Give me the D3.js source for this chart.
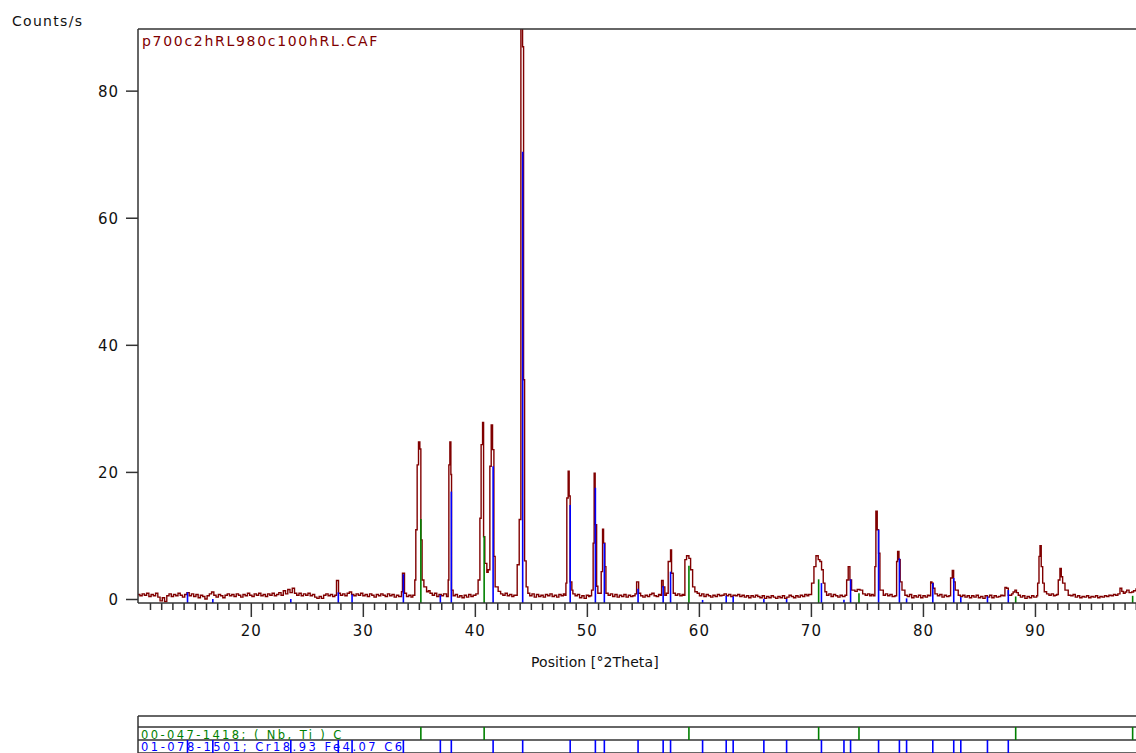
<!DOCTYPE html>
<html><head><meta charset="utf-8">
<script src="https://cdn.jsdelivr.net/npm/d3@7"></script>
<style>body{margin:0;background:#fff}svg{display:block}text{font-family:"DejaVu Sans",sans-serif}</style>
</head><body><svg id="c" width="1136" height="753"></svg>
<script>
const scanName = "p700c2hRL980c100hRL.CAF";
const yLabel = "Counts/s";
const xLabel = "Position [°2Theta]";
const yTickValues = [0, 20, 40, 60, 80];
const xTickValues = [20, 30, 40, 50, 60, 70, 80, 90];
const xMinorTickValues = [11,12,13,14,15,16,17,18,19,21,22,23,24,25,26,27,28,29,31,32,33,34,35,36,37,38,39,41,42,43,44,45,46,47,48,49,51,52,53,54,55,56,57,58,59,61,62,63,64,65,66,67,68,69,71,72,73,74,75,76,77,78,79,81,82,83,84,85,86,87,88,89,91,92,93,94,95,96,97,98,99];

// measured profile: [°2Theta, counts/s]
const profile = [[9.93,0.7],[10.1,0.5],[10.3,0.8],[10.5,0.6],[10.7,0.9],[10.9,0.4],[11.1,0.7],[11.3,0.5],[11.5,0.9],[11.7,0.3],[11.9,-0.3],[12.1,0.2],[12.3,-0.4],[12.5,0.5],[12.7,0.8],[12.9,0.4],[13.1,0.7],[13.3,0.5],[13.5,0.9],[13.7,0.6],[13.9,0.3],[14.1,0.7],[14.3,1.0],[14.5,0.5],[14.7,0.8],[14.9,0.4],[15.1,0.7],[15.3,0.2],[15.5,0.6],[15.7,0.4],[15.9,0.0],[16.1,0.5],[16.3,0.8],[16.5,1.1],[16.7,0.6],[16.9,0.3],[17.1,0.7],[17.3,0.5],[17.5,0.2],[17.7,0.6],[17.9,0.8],[18.1,0.5],[18.3,0.7],[18.5,0.4],[18.7,0.8],[18.9,0.6],[19.1,0.3],[19.3,0.7],[19.5,0.5],[19.7,0.9],[19.9,0.6],[20.1,0.4],[20.3,0.8],[20.5,0.6],[20.7,0.9],[20.9,0.5],[21.1,0.7],[21.3,0.4],[21.5,0.8],[21.7,0.6],[21.9,0.9],[22.1,0.5],[22.3,0.7],[22.5,1.0],[22.7,0.6],[22.9,1.3],[23.1,0.8],[23.3,1.5],[23.5,1.0],[23.7,1.7],[23.9,0.9],[24.1,0.6],[24.3,0.9],[24.5,0.5],[24.7,0.8],[24.9,0.6],[25.1,0.9],[25.3,0.5],[25.5,0.7],[25.7,0.3],[25.9,0.1],[26.1,0.4],[26.3,0.1],[26.5,0.6],[26.7,0.8],[26.9,0.5],[27.1,0.7],[27.3,0.4],[27.5,0.6],[27.65,2.9],[27.83,0.9],[28.0,0.6],[28.2,0.8],[28.4,0.5],[28.6,0.9],[28.8,1.1],[29.0,0.7],[29.2,0.5],[29.4,0.8],[29.6,0.6],[29.8,0.9],[30.0,0.5],[30.2,0.7],[30.4,0.4],[30.6,0.8],[30.8,0.6],[31.0,0.3],[31.2,0.7],[31.4,0.5],[31.6,0.8],[31.8,0.6],[32.0,0.4],[32.2,0.8],[32.4,0.5],[32.6,0.7],[32.8,0.3],[33.0,0.6],[33.2,0.4],[33.45,1.15],[33.54,4.05],[33.72,0.9],[33.9,0.4],[34.1,0.6],[34.3,0.3],[34.46,0.6],[34.64,3.0],[34.73,10.9],[34.85,21.1],[34.97,24.7],[35.09,23.6],[35.18,9.3],[35.29,3.0],[35.45,1.9],[35.69,1.15],[35.85,1.3],[36.0,0.9],[36.2,0.6],[36.4,0.9],[36.6,0.4],[36.8,0.7],[37.0,0.5],[37.2,0.8],[37.47,0.4],[37.62,3.0],[37.68,21.1],[37.77,24.7],[37.86,19.6],[37.92,1.4],[38.06,0.5],[38.25,0.7],[38.45,0.3],[38.65,0.5],[38.85,0.2],[39.05,0.6],[39.25,0.3],[39.45,0.7],[39.65,0.4],[39.85,0.6],[40.09,0.8],[40.29,3.0],[40.45,12.7],[40.56,24.3],[40.69,27.8],[40.78,9.8],[40.89,5.6],[41.07,4.2],[41.19,4.6],[41.34,20.9],[41.46,27.4],[41.58,23.5],[41.7,6.7],[41.81,1.9],[42.08,1.2],[42.3,0.8],[42.5,0.6],[42.7,0.9],[42.9,0.5],[43.1,0.7],[43.3,0.4],[43.48,0.6],[43.78,5.4],[43.96,12.5],[44.11,92],[44.26,86.9],[44.35,34.5],[44.44,6.0],[44.58,1.9],[44.73,0.9],[44.9,0.5],[45.1,0.8],[45.3,0.3],[45.5,0.7],[45.7,0.4],[45.9,0.6],[46.1,0.3],[46.3,0.7],[46.5,0.5],[46.7,0.8],[46.9,0.4],[47.1,0.6],[47.3,0.3],[47.5,0.7],[47.7,0.5],[47.9,0.8],[48.04,0.6],[48.13,2.5],[48.21,15.9],[48.33,20.1],[48.42,16.2],[48.51,2.7],[48.66,1.4],[48.75,0.8],[48.95,0.5],[49.15,0.7],[49.35,0.2],[49.55,0.5],[49.75,0.1],[49.95,0.6],[50.15,0.4],[50.27,0.5],[50.42,1.4],[50.56,8.8],[50.65,19.8],[50.74,11.7],[50.87,2.0],[50.98,0.9],[51.28,4.3],[51.4,11.0],[51.49,8.8],[51.61,5.1],[51.7,0.9],[51.9,0.6],[52.1,0.8],[52.3,0.4],[52.5,0.7],[52.7,0.3],[52.9,0.6],[53.1,0.4],[53.3,0.7],[53.5,0.3],[53.7,0.6],[53.9,0.4],[54.1,0.5],[54.3,0.8],[54.44,2.7],[54.62,0.9],[54.8,0.5],[55.0,0.3],[55.2,0.6],[55.4,0.4],[55.6,0.7],[55.8,0.9],[56.0,0.5],[56.2,0.4],[56.4,0.7],[56.55,0.6],[56.67,2.9],[56.81,1.9],[56.96,0.6],[57.1,0.9],[57.26,5.9],[57.47,7.7],[57.56,4.05],[57.71,0.9],[57.9,0.6],[58.1,0.8],[58.3,0.5],[58.5,0.7],[58.62,0.6],[58.75,6.2],[58.9,6.8],[59.11,6.4],[59.26,4.6],[59.44,1.9],[59.64,1.15],[59.85,0.9],[60.05,0.5],[60.25,0.8],[60.45,0.4],[60.65,0.7],[60.85,0.5],[61.05,0.3],[61.25,0.6],[61.45,0.4],[61.65,0.7],[61.85,0.5],[62.05,0.6],[62.25,0.8],[62.45,0.5],[62.65,0.7],[62.85,0.4],[63.05,0.6],[63.25,0.5],[63.45,0.7],[63.65,0.4],[63.85,0.6],[64.05,0.3],[64.25,0.5],[64.45,0.2],[64.65,0.5],[64.85,0.3],[65.05,0.6],[65.25,0.4],[65.45,0.2],[65.65,0.5],[65.85,0.1],[66.05,0.4],[66.25,0.2],[66.45,0.5],[66.65,0.3],[66.85,0.1],[67.05,0.4],[67.25,0.2],[67.45,0.5],[67.65,0.1],[67.85,0.3],[68.05,0.6],[68.25,0.4],[68.45,0.2],[68.65,0.5],[68.85,0.3],[69.05,0.6],[69.25,0.4],[69.45,0.7],[69.65,0.5],[69.8,0.7],[70.06,2.5],[70.27,5.1],[70.45,6.8],[70.65,6.2],[70.8,5.9],[70.95,4.6],[71.1,2.5],[71.25,1.15],[71.4,0.6],[71.6,0.8],[71.8,0.4],[72.0,0.7],[72.2,0.5],[72.4,0.3],[72.6,0.6],[72.8,0.4],[73.04,0.6],[73.19,3.0],[73.33,5.1],[73.48,3.0],[73.63,1.4],[73.93,1.2],[74.13,1.5],[74.38,1.4],[74.62,0.8],[74.85,0.6],[75.05,0.8],[75.25,0.5],[75.4,0.7],[75.56,0.5],[75.71,5.1],[75.8,13.8],[75.92,10.9],[76.04,7.2],[76.16,1.4],[76.46,0.6],[76.65,0.8],[76.85,0.5],[77.05,0.7],[77.25,0.4],[77.5,0.5],[77.65,5.9],[77.74,7.5],[77.86,6.2],[77.97,2.7],[78.13,1.4],[78.39,0.6],[78.6,0.4],[78.8,0.7],[79.0,0.2],[79.2,0.5],[79.4,0.3],[79.6,0.6],[79.8,0.2],[80.0,0.5],[80.2,0.3],[80.4,0.6],[80.54,0.5],[80.69,2.7],[80.8,2.5],[80.92,1.7],[81.07,0.8],[81.3,0.5],[81.5,0.7],[81.7,0.3],[81.9,0.6],[82.1,0.4],[82.32,0.5],[82.47,3.3],[82.62,4.5],[82.74,2.7],[82.88,1.4],[83.15,0.6],[83.35,0.4],[83.55,0.6],[83.75,0.3],[83.95,0.5],[84.15,0.2],[84.35,0.5],[84.55,0.3],[84.75,0.6],[84.95,0.2],[85.15,0.4],[85.35,0.1],[85.55,0.5],[85.75,0.3],[85.95,0.6],[86.15,0.2],[86.35,0.5],[86.55,0.3],[86.75,0.4],[86.95,0.6],[87.14,0.5],[87.32,1.8],[87.47,1.7],[87.62,0.6],[87.92,0.8],[88.05,1.1],[88.21,1.4],[88.35,1.0],[88.51,0.6],[88.7,0.3],[88.9,0.5],[89.1,0.1],[89.3,0.4],[89.5,0.2],[89.7,0.5],[89.9,0.3],[90.15,0.5],[90.24,2.5],[90.36,6.7],[90.45,8.4],[90.56,5.1],[90.69,2.5],[90.83,1.15],[91.04,0.8],[91.25,0.6],[91.45,0.8],[91.65,0.5],[91.8,0.6],[91.94,0.7],[92.08,3.0],[92.23,4.8],[92.35,3.5],[92.47,2.5],[92.68,1.4],[92.97,0.6],[93.2,0.5],[93.4,0.7],[93.6,0.3],[93.8,0.5],[94.0,0.2],[94.2,0.4],[94.4,0.3],[94.6,0.5],[94.8,0.2],[95.0,0.4],[95.2,0.3],[95.4,0.5],[95.6,0.2],[95.8,0.4],[96.0,0.3],[96.2,0.5],[96.4,0.4],[96.6,0.6],[96.8,0.5],[97.0,0.7],[97.2,0.6],[97.4,0.8],[97.59,1.7],[97.75,1.2],[97.89,0.9],[98.05,1.1],[98.19,1.4],[98.4,1.0],[98.63,1.1],[98.8,1.3],[99.02,1.7]];

// reference patterns
const refCodes = ["00-047-1418; ( Nb, Ti ) C", "01-078-1501; Cr18.93 Fe4.07 C6"];
const nbcPositions = [35.18, 40.83, 59.11, 70.69, 74.29, 88.28, 98.72];
const nbcHeights   = [12.6, 9.9, 5.25, 3.1, 0.9, 0.4, 0.5];
const m23c6Positions = [14.35,16.61,23.57,27.81,29.04,33.62,36.92,37.9,41.63,44.27,48.51,50.76,51.56,54.57,56.81,57.47,60.33,62.44,63.06,65.8,67.83,70.94,72.95,73.54,76.04,77.9,78.54,80.88,82.75,83.38,85.76,87.62];
const m23c6Heights   = [1.05,0.0,0.0,1.05,0.7,3.9,0.6,16.9,20.9,70.4,14.8,17.5,8.8,1.6,2.05,4.3,-0.15,0.5,0.4,0.0,0.0,2.5,-0.1,3.1,10.9,6.4,0.1,2.5,3.3,0.3,0.4,1.4];

const colProfile = "#800000", colNbc = "#008000", colM = "#0000ff", colFrame = "#333";

const svg = d3.select("#c");
const L = 138, R = 1136, T = 29, B = 603;
const x = d3.scaleLinear().domain([9.93, 99.02]).range([L, R]);
const y = d3.scaleLinear().domain([-0.63, 89.7]).range([B, T]);

svg.append("defs").append("clipPath").attr("id", "plotclip")
  .append("rect").attr("x", L).attr("y", T).attr("width", R - L).attr("height", B - T);

// profile
const plot = svg.append("g").attr("clip-path", "url(#plotclip)");
plot.append("path").datum(profile)
  .attr("fill", "none").attr("stroke", colProfile).attr("stroke-width", 1.4)
  .attr("d", d3.line().x(d => x(d[0])).y(d => y(d[1])).curve(d3.curveStepAfter));

// sticks in main plot
const nbc = nbcPositions.map((p, i) => ({p, h: nbcHeights[i]}));
const m23 = m23c6Positions.map((p, i) => ({p, h: m23c6Heights[i]}));
plot.selectAll(".sm").data(m23).join("line").attr("class", "sm")
  .attr("x1", d => x(d.p)).attr("x2", d => x(d.p))
  .attr("y1", B).attr("y2", d => y(d.h))
  .attr("stroke", colM).attr("stroke-width", 1.6);
plot.selectAll(".sn").data(nbc).join("line").attr("class", "sn")
  .attr("x1", d => x(d.p)).attr("x2", d => x(d.p))
  .attr("y1", B).attr("y2", d => y(d.h))
  .attr("stroke", colNbc).attr("stroke-width", 1.6);

// frame
svg.append("line").attr("x1", L).attr("x2", R).attr("y1", T).attr("y2", T).attr("stroke", colFrame).attr("stroke-width", 1.5);
svg.append("line").attr("x1", L).attr("x2", L).attr("y1", T).attr("y2", B).attr("stroke", colFrame).attr("stroke-width", 1.5);

// y axis
const yAx = svg.append("g").attr("transform", `translate(${L},0)`)
  .call(d3.axisLeft(y).tickValues(yTickValues).tickSize(12).tickPadding(7).tickFormat(d3.format("d")));
yAx.select(".domain").remove();
yAx.selectAll("line").attr("stroke", colFrame).attr("stroke-width", 1.5);
yAx.selectAll("text").attr("font-size", 15).attr("fill", "#111").attr("font-family", "DejaVu Sans").attr("letter-spacing", 1).attr("dy", "0.36em");

// x axis
const xAx = svg.append("g").attr("transform", `translate(0,${B})`)
  .call(d3.axisBottom(x).tickValues(xTickValues).tickSize(14).tickFormat(d3.format("d")));
xAx.select(".domain").attr("stroke", colFrame).attr("stroke-width", 1.5).attr("d", `M${L},0H${R}`);
xAx.selectAll("line").attr("stroke", colFrame).attr("stroke-width", 1.5);
xAx.selectAll("text").attr("font-size", 15).attr("fill", "#111").attr("font-family", "DejaVu Sans")
  .attr("letter-spacing", 1).attr("y", 33).attr("dy", 0);
const xMin = svg.append("g").attr("transform", `translate(0,${B})`)
  .call(d3.axisBottom(x).tickValues(xMinorTickValues).tickSize(7).tickFormat(""));
xMin.select(".domain").remove();
xMin.selectAll("line").attr("stroke", colFrame).attr("stroke-width", 1.5);

// labels
svg.append("text").attr("x", 12).attr("y", 26).attr("font-size", 14).attr("letter-spacing", 1.3).attr("fill", "#111").text(yLabel);
svg.append("text").attr("x", 531).attr("y", 667).attr("font-size", 14).attr("letter-spacing", 0.1).attr("fill", "#111").text(xLabel);
svg.append("text").attr("x", 142).attr("y", 46).attr("font-size", 14).attr("letter-spacing", 1.7).attr("fill", colProfile).text(scanName);

// reference panel
const rowY = [716, 727, 740, 753];
rowY.forEach(v => svg.append("line").attr("x1", L).attr("x2", R).attr("y1", v).attr("y2", v).attr("stroke", colFrame).attr("stroke-width", 1.5));
svg.append("line").attr("x1", L).attr("x2", L).attr("y1", 716).attr("y2", 753).attr("stroke", colFrame).attr("stroke-width", 1.5);
svg.selectAll(".pn").data(nbc).join("line").attr("class", "pn")
  .attr("x1", d => x(d.p)).attr("x2", d => x(d.p)).attr("y1", rowY[1]).attr("y2", rowY[2])
  .attr("stroke", colNbc).attr("stroke-width", 1.6);
svg.selectAll(".pm").data(m23).join("line").attr("class", "pm")
  .attr("x1", d => x(d.p)).attr("x2", d => x(d.p)).attr("y1", rowY[2]).attr("y2", rowY[3])
  .attr("stroke", colM).attr("stroke-width", 1.6);
svg.append("text").attr("x", 141).attr("y", 738.5).attr("font-size", 11.5).attr("letter-spacing", 2.4).attr("fill", colNbc).text(refCodes[0]);
svg.append("text").attr("x", 141).attr("y", 750.5).attr("font-size", 11.5).attr("letter-spacing", 2.5).attr("fill", colM).text(refCodes[1]);
</script></body></html>
